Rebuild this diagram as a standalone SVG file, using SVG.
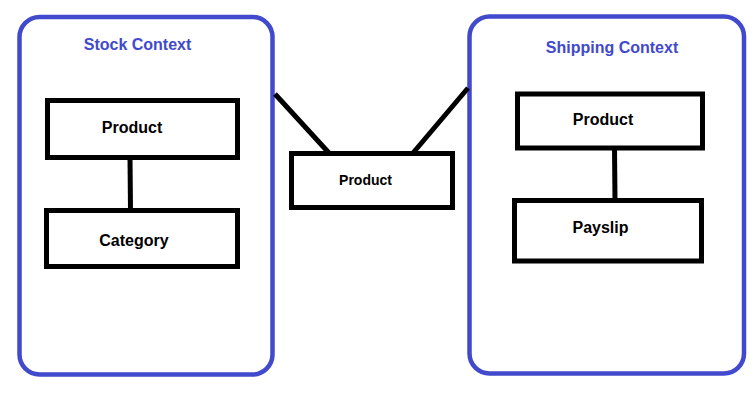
<svg xmlns="http://www.w3.org/2000/svg" width="756" height="393" viewBox="0 0 756 393">
  <style>
    .context { fill: none; stroke: #4149cc; stroke-width: 4.5; }
    .entity { fill: #ffffff; stroke: #000000; stroke-width: 5; }
    .link { fill: none; stroke: #000000; stroke-width: 5; }
    .ctx-label { font-family: "Liberation Sans", Arial, sans-serif; font-weight: bold; font-size: 16px; fill: #4149cc; text-anchor: middle; }
    .ent-label { font-family: "Liberation Sans", Arial, sans-serif; font-weight: bold; font-size: 16px; fill: #000000; text-anchor: middle; }
  </style>
  <rect width="756" height="393" fill="#ffffff"/>

  <g id="stock-context">
    <rect class="context" x="19.5" y="17" width="253" height="357.5" rx="20" ry="20"/>
    <text class="ctx-label" x="137.5" y="50">Stock Context</text>
  </g>

  <g id="shipping-context">
    <rect class="context" x="469.5" y="16.5" width="274.5" height="357" rx="20" ry="20"/>
    <text class="ctx-label" x="612" y="53">Shipping Context</text>
  </g>

  <g id="connectors">
    <line class="link" x1="130" y1="158" x2="130.5" y2="210"/>
    <line class="link" x1="614.5" y1="148" x2="615" y2="200"/>
    <line class="link" x1="275" y1="94" x2="329" y2="153"/>
    <line class="link" x1="468" y1="88" x2="413" y2="153"/>
  </g>

  <g id="stock-product">
    <rect class="entity" x="47.5" y="100.5" width="190" height="57"/>
    <text class="ent-label" x="132" y="133">Product</text>
  </g>

  <g id="stock-category">
    <rect class="entity" x="46.5" y="210.5" width="191" height="56"/>
    <text class="ent-label" x="134" y="246">Category</text>
  </g>

  <g id="shared-product">
    <rect class="entity" x="291.5" y="153.5" width="161" height="54"/>
    <text class="ent-label" x="365.5" y="185" style="font-size:14px">Product</text>
  </g>

  <g id="shipping-product">
    <rect class="entity" x="517.5" y="94" width="185" height="54"/>
    <text class="ent-label" x="603" y="125">Product</text>
  </g>

  <g id="shipping-payslip">
    <rect class="entity" x="514.5" y="200.5" width="187" height="60.5"/>
    <text class="ent-label" x="600.5" y="233">Payslip</text>
  </g>
</svg>
